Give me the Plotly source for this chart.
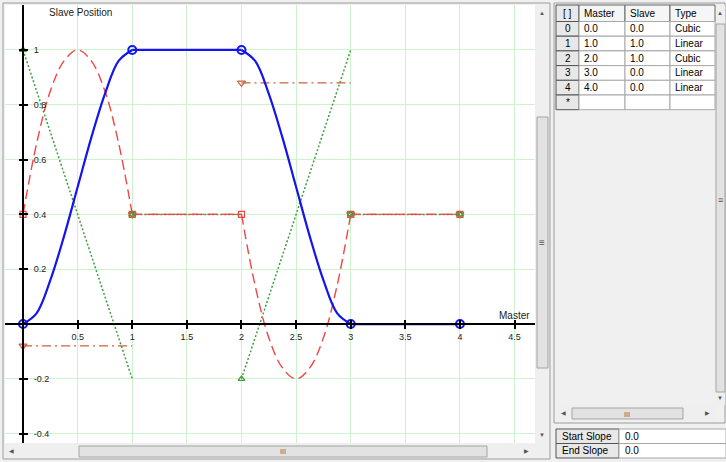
import plotly.graph_objects as go

W, H = 726, 462
FONT = "Liberation Sans"

# cam keypoints (the table on the right)
key_master = [0.0, 1.0, 2.0, 3.0, 4.0]
key_slave = [0.0, 1.0, 1.0, 0.0, 0.0]
key_type = ["Cubic", "Linear", "Cubic", "Linear", "Linear"]
table_header = ["[ ]", "Master", "Slave", "Type"]
start_slope = "0.0"
end_slope = "0.0"

# curve samples, one list per segment
seg_master = [
    [0.0, 0.125, 0.25, 0.375, 0.5, 0.625, 0.75, 0.875, 1.0],
    [1.0, 2.0],
    [2.0, 2.125, 2.25, 2.375, 2.5, 2.625, 2.75, 2.875, 3.0],
    [3.0, 4.0],
]
position = [
    [0.0, 0.04, 0.16, 0.32, 0.5, 0.68, 0.84, 0.96, 1.0],
    [1.0, 1.0],
    [1.0, 0.96, 0.84, 0.68, 0.5, 0.32, 0.16, 0.04, 0.0],
    [0.0, 0.0],
]
velocity = [
    [0.4, 0.66, 0.85, 0.96, 1.0, 0.96, 0.85, 0.66, 0.4],
    [0.4, 0.4],
    [0.4, 0.14, -0.05, -0.16, -0.2, -0.16, -0.05, 0.14, 0.4],
    [0.4, 0.4],
]
line_master = [[0.0, 1.0], [1.0, 2.0], [2.0, 3.0], [3.0, 4.0]]
acceleration = [[1.0, -0.2], [0.4, 0.4], [-0.2, 1.0], [0.4, 0.4]]
jerk = [[-0.08, -0.08], [0.4, 0.4], [0.88, 0.88], [0.4, 0.4]]

# values at the keypoint markers
vel_key = [0.4, 0.4, 0.4, 0.4, 0.4]
acc_key = [1.0, 0.4, -0.2, 0.4, 0.4]
jerk_key = [-0.08, 0.4, 0.88, 0.4, 0.4]

x_ticks = [0.5, 1, 1.5, 2, 2.5, 3, 3.5, 4, 4.5]
y_ticks = [-0.4, -0.2, 0.2, 0.4, 0.6, 0.8, 1]

BLUE = "#1414ee"
RED = "#f04646"
GREEN = "#3c9e3c"
BROWN = "#c8643c"
GRID = "#cdf3cd"


def joined(xs_list, ys_list):
    x, y = [], []
    for xs, ys in zip(xs_list, ys_list):
        x += xs + [None]
        y += ys + [None]
    return x, y


def px_x(p):
    return p / W


def px_y(p):
    return 1 - p / H


def box(x0, y0, x1, y1, fill=None, line=None):
    return dict(
        type="rect", xref="paper", yref="paper",
        x0=px_x(x0), x1=px_x(x1), y0=px_y(y1), y1=px_y(y0),
        fillcolor=fill or "rgba(0,0,0,0)",
        line=dict(color=line or "rgba(0,0,0,0)", width=1),
    )


def label(text, x, y, size=10, color="#222", xanchor="center"):
    return dict(
        text=text, xref="paper", yref="paper", x=px_x(x), y=px_y(y),
        showarrow=False, xanchor=xanchor, yanchor="middle",
        font=dict(family=FONT, size=size, color=color),
    )


x_dom = [px_x(5), px_x(535)]
y_dom = [px_y(443), px_y(5)]
x_rng = [-0.165, 4.687]
y_rng = [-0.434, 1.164]
x_axis_pos = y_dom[0] + (0 - y_rng[0]) / (y_rng[1] - y_rng[0]) * (y_dom[1] - y_dom[0])
y_axis_pos = x_dom[0] + (0 - x_rng[0]) / (x_rng[1] - x_rng[0]) * (x_dom[1] - x_dom[0])

fig = go.Figure()

x, y = joined(line_master, acceleration)
fig.add_trace(go.Scatter(x=x, y=y, mode="lines", line=dict(color=GREEN, width=1.5, dash="2px,2px"), hoverinfo="skip"))
x, y = joined(line_master, jerk)
fig.add_trace(go.Scatter(x=x, y=y, mode="lines", line=dict(color=BROWN, width=1.3, dash="9px,4px,2px,4px"), hoverinfo="skip"))
x, y = joined(seg_master, velocity)
fig.add_trace(go.Scatter(x=x, y=y, mode="lines", line=dict(color=RED, width=1.4, dash="10px,5px", shape="spline"),
                         hoverinfo="skip"))
x, y = joined(seg_master, position)
fig.add_trace(go.Scatter(x=x, y=y, mode="lines", line=dict(color=BLUE, width=2.2, shape="spline"), hoverinfo="skip"))

fig.add_trace(go.Scatter(x=key_master, y=vel_key, mode="markers", hoverinfo="skip",
                         marker=dict(symbol="square-open", size=6, color=RED, line=dict(width=1.2))))
fig.add_trace(go.Scatter(x=key_master, y=jerk_key, mode="markers", hoverinfo="skip",
                         marker=dict(symbol="triangle-down-open", size=7, color=BROWN, line=dict(width=1.2))))
fig.add_trace(go.Scatter(x=key_master, y=acc_key, mode="markers", hoverinfo="skip",
                         marker=dict(symbol="triangle-up-open", size=6, color=GREEN, line=dict(width=1.2))))
fig.add_trace(go.Scatter(x=key_master, y=key_slave, mode="markers", hoverinfo="skip",
                         marker=dict(symbol="circle-open", size=8, color=BLUE, line=dict(width=2))))
# empty trace so the overlay axes (inner half of the ticks) get drawn
fig.add_trace(go.Scatter(x=[], y=[], xaxis="x2", yaxis="y2", hoverinfo="skip"))

shapes = [
    # chart control frame and scrollbars
    box(3, 3, 550, 459, line="#9c9c9c"),
    box(535, 5, 549, 443, fill="#efefef"),
    box(537, 117, 548, 368, fill="#e2e2e2", line="#a4a4a4"),
    box(5, 444, 535, 458, fill="#efefef"),
    box(79, 446, 487, 457, fill="#e2e2e2", line="#a4a4a4"),
    box(535, 443, 549, 458, fill="#efefef"),
    # right panel
    box(554, 3, 725, 423, line="#9c9c9c"),
    box(715, 5, 725, 405, fill="#efefef"),
    box(716, 24, 725, 392, fill="#e2e2e2", line="#a4a4a4"),
    box(556, 405, 715, 421, fill="#efefef"),
    box(572, 408, 683, 419, fill="#e2e2e2", line="#a4a4a4"),
]

annotations = [
    label("Slave Position", 47, 12, xanchor="left"),
    label("Master", 497, 315, xanchor="left"),
    label("≡", 542, 242, size=10, color="#555"),
    label("III", 283, 451, size=7, color="#555"),
    label("III", 627, 414, size=7, color="#555"),
    label("≡", 720, 200, size=9, color="#555"),
    label("▲", 542, 13, size=6, color="#555"),
    label("▼", 542, 435, size=6, color="#555"),
    label("◀", 11, 451, size=6, color="#555"),
    label("▶", 526, 451, size=6, color="#555"),
    label("▲", 720, 13, size=6, color="#555"),
    label("▼", 720, 398, size=6, color="#555"),
    label("◀", 563, 413, size=6, color="#555"),
    label("▶", 707, 413, size=6, color="#555"),
]

# cam table: header row plus one row per keypoint and the empty "new row"
col_edges = [556, 579, 625, 670, 715]
row_edges = [5, 21.5, 36.2, 50.9, 65.6, 80.3, 95, 109.7]
table_rows = [table_header]
for i, (m, s, t) in enumerate(zip(key_master, key_slave, key_type)):
    table_rows.append([str(i), f"{m:.1f}", f"{s:.1f}", t])
table_rows.append(["*", "", "", ""])

for r, row in enumerate(table_rows):
    y0, y1 = row_edges[r], row_edges[r + 1]
    for c, text in enumerate(row):
        x0, x1 = col_edges[c], col_edges[c + 1]
        if c == 0:
            shapes.append(box(x0, y0, x1, y1, fill="#e8e8e8", line="#555555"))
        elif r == 0:
            shapes.append(box(x0, y0, x1, y1, fill="#f6f6f6", line="#666666"))
        else:
            shapes.append(box(x0, y0, x1, y1, fill="white", line="#a8a8a8"))
        if text:
            if c == 0:
                annotations.append(label(text, (x0 + x1) / 2, (y0 + y1) / 2, color="black"))
            else:
                annotations.append(label(text, x0 + 3, (y0 + y1) / 2, color="black", xanchor="left"))

# slope table
slope_rows = [["Start Slope", start_slope], ["End Slope", end_slope]]
slope_cols = [556, 619, 726]
slope_row_edges = [429, 443.5, 458]
for r, row in enumerate(slope_rows):
    y0, y1 = slope_row_edges[r], slope_row_edges[r + 1]
    for c, text in enumerate(row):
        x0, x1 = slope_cols[c], slope_cols[c + 1]
        if c == 0:
            shapes.append(box(x0, y0, x1, y1, fill="#e8e8e8", line="#555555"))
        else:
            shapes.append(box(x0, y0, x1, y1, fill="white", line="#a8a8a8"))
        annotations.append(label(text, x0 + 4, (y0 + y1) / 2, color="black", xanchor="left"))

tick_font = dict(family=FONT, size=9, color="#222")
fig.update_layout(
    width=W, height=H,
    margin=dict(l=0, r=0, t=0, b=0),
    paper_bgcolor="#f0f0f0",
    plot_bgcolor="white",
    showlegend=False,
    shapes=shapes,
    annotations=annotations,
    xaxis=dict(
        domain=x_dom, range=x_rng, anchor="free", position=x_axis_pos,
        showline=True, linecolor="black", linewidth=2,
        tickvals=x_ticks, ticktext=[f"{v:g}" for v in x_ticks],
        ticks="outside", ticklen=4, tickwidth=2, tickcolor="black",
        showgrid=True, gridcolor=GRID, gridwidth=1, zeroline=False,
        tickfont=tick_font, fixedrange=True,
    ),
    yaxis=dict(
        domain=y_dom, range=y_rng, anchor="free", position=y_axis_pos, side="right",
        showline=True, linecolor="black", linewidth=2,
        tickvals=y_ticks, ticktext=[f"{v:g}" for v in y_ticks],
        ticks="outside", ticklen=4, tickwidth=2, tickcolor="black",
        ticklabelstandoff=4,
        showgrid=True, gridcolor=GRID, gridwidth=1, zeroline=False,
        tickfont=tick_font, fixedrange=True,
    ),
    xaxis2=dict(
        overlaying="x", range=x_rng, anchor="free", position=x_axis_pos,
        tickvals=x_ticks, ticks="inside", ticklen=4, tickwidth=2, tickcolor="black",
        showticklabels=False, showgrid=False, zeroline=False, showline=False, fixedrange=True,
    ),
    yaxis2=dict(
        overlaying="y", range=y_rng, anchor="free", position=y_axis_pos, side="right",
        tickvals=y_ticks, ticks="inside", ticklen=4, tickwidth=2, tickcolor="black",
        showticklabels=False, showgrid=False, zeroline=False, showline=False, fixedrange=True,
    ),
)

# the page body has a default 8px margin; drop it so the figure sits at the window corner
fig.write_html(
    "out.html",
    config={"displayModeBar": False},
    post_script="document.body.style.margin = '0px';",
)
